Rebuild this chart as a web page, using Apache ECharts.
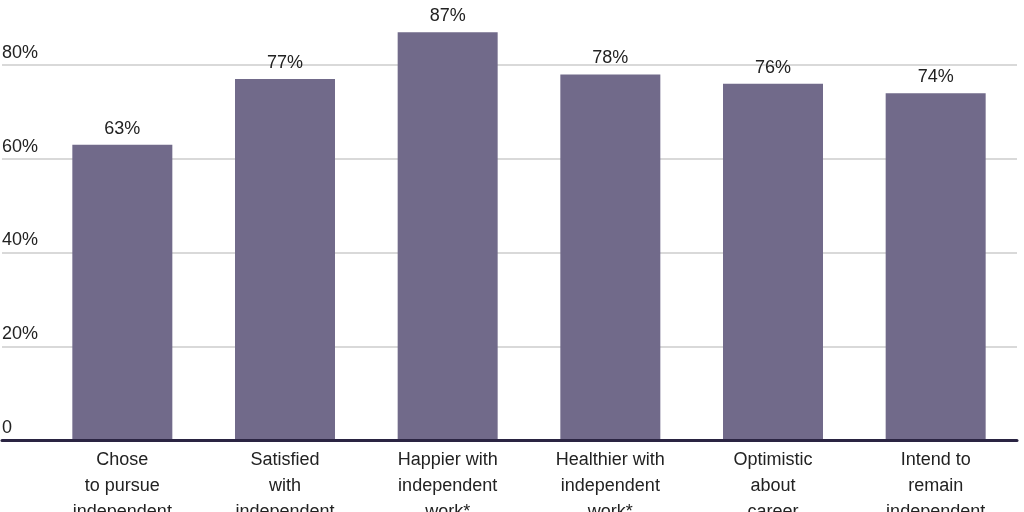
<!DOCTYPE html>
<html>
<head>
<meta charset="utf-8">
<script src="https://cdn.jsdelivr.net/npm/echarts@6/dist/echarts.min.js"></script>
<style>
html,body{margin:0;padding:0;background:#fff;}
#main{width:1024px;height:512px;}
</style>
</head>
<body>
<div id="main"></div>
<script>
var categories = [
    'Chose\nto pursue\nindependent\nwork',
    'Satisfied\nwith\nindependent\nwork',
    'Happier with\nindependent\nwork*',
    'Healthier with\nindependent\nwork*',
    'Optimistic\nabout\ncareer\nprospects',
    'Intend to\nremain\nindependent'
];
var values = [63, 77, 87, 78, 76, 74];
var yTicks = [0, 20, 40, 60, 80, 100];

var barColor = '#716a8a';
var fontName = '"Liberation Sans", Arial, sans-serif';

var mychart = echarts.init(document.getElementById('main'));
mychart.setOption({
    animation: false,
    grid: [
        // gridlines + axis line, full width
        {left: 2, right: 7, top: -28.75, bottom: 72, outerBoundsMode: 'none', containLabel: false},
        // bars
        {left: 41, right: 7, top: -28.75, bottom: 72, outerBoundsMode: 'none', containLabel: false}
    ],
    xAxis: [
        {
            gridIndex: 0, type: 'value', min: 0, max: 1, z: 10,
            axisLine: {show: true, lineStyle: {color: '#2a2442', width: 3}},
            axisTick: {show: false}, axisLabel: {show: false}, splitLine: {show: false}
        },
        {
            gridIndex: 1, type: 'category', data: categories,
            axisLine: {show: false}, axisTick: {show: false},
            axisLabel: {
                interval: 0, margin: 7, fontSize: 18, lineHeight: 26,
                color: '#222', fontFamily: fontName
            }
        }
    ],
    yAxis: [
        {
            gridIndex: 0, type: 'value',
            min: yTicks[0], max: yTicks[yTicks.length - 1], interval: 20,
            axisLine: {show: false}, axisTick: {show: false},
            splitLine: {lineStyle: {color: '#d9d9d9', width: 2}},
            axisLabel: {
                inside: true, margin: 0, verticalAlign: 'bottom',
                padding: [0, 0, 3, 0],
                fontSize: 18, color: '#222', fontFamily: fontName,
                formatter: function (v) { return v === 0 ? '0' : v + '%'; }
            }
        },
        {
            gridIndex: 1, type: 'value',
            min: yTicks[0], max: yTicks[yTicks.length - 1], show: false
        }
    ],
    series: [
        {
            type: 'bar', xAxisIndex: 1, yAxisIndex: 1,
            data: values, barWidth: 100,
            itemStyle: {color: barColor},
            label: {
                show: true, position: 'top', distance: 7,
                fontSize: 18, color: '#222', fontFamily: fontName,
                formatter: '{c}%'
            }
        }
    ]
});
</script>
</body>
</html>
